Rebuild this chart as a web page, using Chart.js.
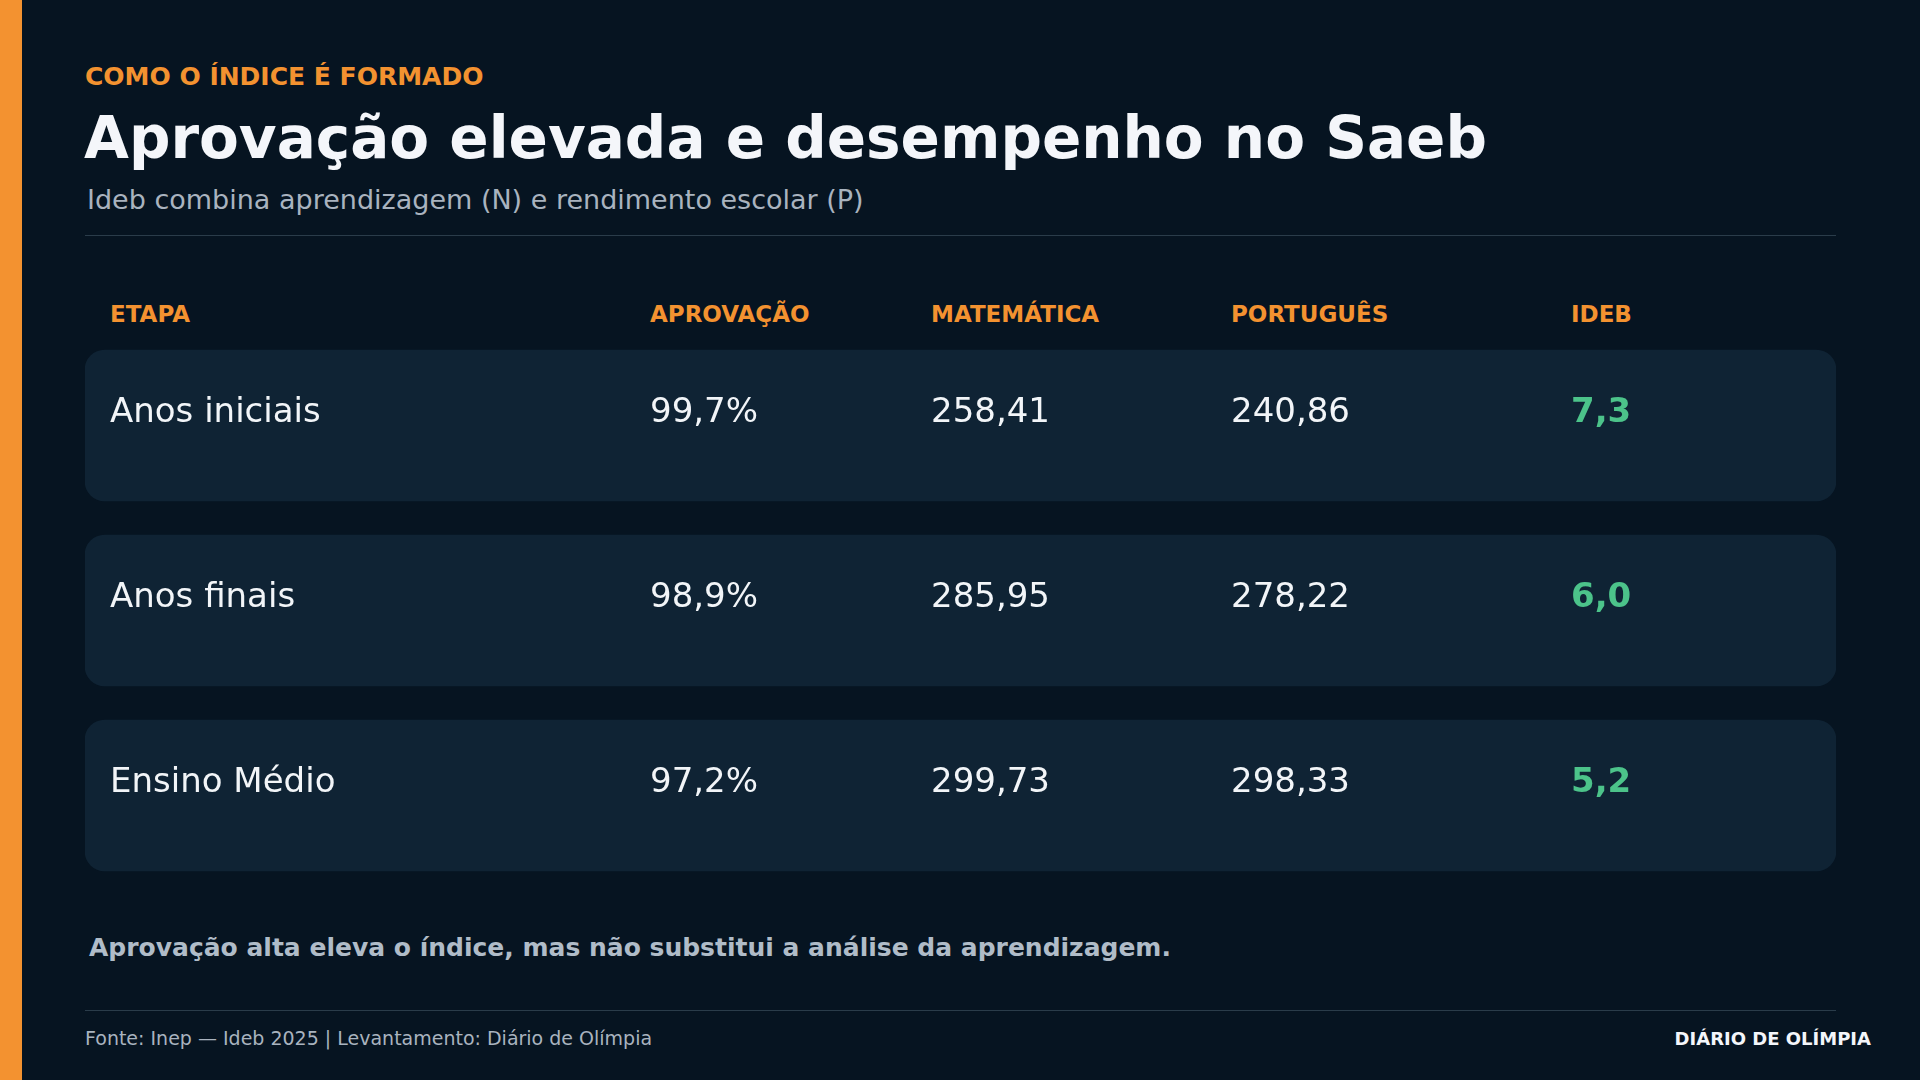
<!DOCTYPE html>
<html><head><meta charset="utf-8">
<script src="https://cdn.jsdelivr.net/npm/chart.js@4/dist/chart.umd.min.js"></script>
<style>
body{margin:0;width:1920px;height:1080px;background:#061421;font-family:"DejaVu Sans",sans-serif;position:relative;overflow:hidden}
.bar{position:absolute;left:0;top:0;width:22px;height:1080px;background:#F39230}
.t{position:absolute;white-space:nowrap}
.hr{position:absolute;left:85px;width:1751px;height:1px;background:#2a3c4a}
.h{position:absolute;top:301px;color:#F39230;font-weight:bold;font-size:23px}
</style></head><body>
<div class="bar"></div>
<div class="t" style="left:85px;top:62px;color:#F39230;font-weight:bold;font-size:25px">COMO O ÍNDICE É FORMADO</div>
<div class="t" style="left:84px;top:104px;color:#f4f6fa;font-weight:bold;font-size:58px">Aprovação elevada e desempenho no Saeb</div>
<div class="t" style="left:87px;top:184px;color:#a9b3bf;font-size:27px">Ideb combina aprendizagem (N) e rendimento escolar (P)</div>
<div class="hr" style="top:235px"></div>
<div id="heads"></div>
<canvas id="tbl" width="1751" height="555" style="position:absolute;left:85px;top:333px"></canvas>
<div class="t" style="left:89px;top:933px;color:#b0bcc8;font-weight:bold;font-size:25px">Aprovação alta eleva o índice, mas não substitui a análise da aprendizagem.</div>
<div class="hr" style="top:1010px"></div>
<div class="t" style="left:85px;top:1027px;color:#a9b3bf;font-size:19px">Fonte: Inep — Ideb 2025 | Levantamento: Diário de Olímpia</div>
<div class="t" style="right:49px;top:1028px;color:#f4f6fa;font-weight:bold;font-size:18px">DIÁRIO DE OLÍMPIA</div>
<script>
// Table data
const columns = ['ETAPA', 'APROVAÇÃO', 'MATEMÁTICA', 'PORTUGUÊS', 'IDEB'];
const etapas = ['Anos iniciais', 'Anos finais', 'Ensino Médio'];
const aprovacao = ['99,7%', '98,9%', '97,2%'];
const matematica = ['258,41', '285,95', '299,73'];
const portugues = ['240,86', '278,22', '298,33'];
const ideb = ['7,3', '6,0', '5,2'];

const colX = [25, 565, 846, 1146, 1486];

// Column headers
const heads = document.getElementById('heads');
columns.forEach((c, i) => {
    heads.insertAdjacentHTML('beforeend', `<div class="h" style="left:${85 + colX[i]}px">${c}</div>`);
});

const cellText = {
    id: 'cellText',
    afterDatasetsDraw(chart) {
        const ctx = chart.ctx;
        const y = chart.scales.y;
        ctx.save();
        ctx.textBaseline = 'middle';
        etapas.forEach((e, i) => {
            const py = y.getPixelForValue(i) - 12;
            const vals = [e, aprovacao[i], matematica[i], portugues[i], ideb[i]];
            vals.forEach((v, j) => {
                if (j === 4) {
                    ctx.font = 'bold 34px "DejaVu Sans"';
                    ctx.fillStyle = '#4cc38a';
                } else {
                    ctx.font = '34px "DejaVu Sans"';
                    ctx.fillStyle = '#f2f5f8';
                }
                ctx.fillText(v, colX[j], py);
            });
        });
        ctx.restore();
    }
};

new Chart(document.getElementById('tbl'), {
    type: 'bar',
    data: {
        labels: etapas,
        datasets: [{
            data: etapas.map(() => 1),
            backgroundColor: '#0f2334',
            borderRadius: 20,
            borderSkipped: false,
            barThickness: 151
        }]
    },
    options: {
        indexAxis: 'y',
        responsive: false,
        animation: false,
        devicePixelRatio: 1,
        layout: { padding: 0 },
        plugins: { legend: { display: false }, tooltip: { enabled: false } },
        scales: {
            x: { display: false, min: 0, max: 1 },
            y: { display: false }
        }
    },
    plugins: [cellText]
});
</script>
</body></html>
